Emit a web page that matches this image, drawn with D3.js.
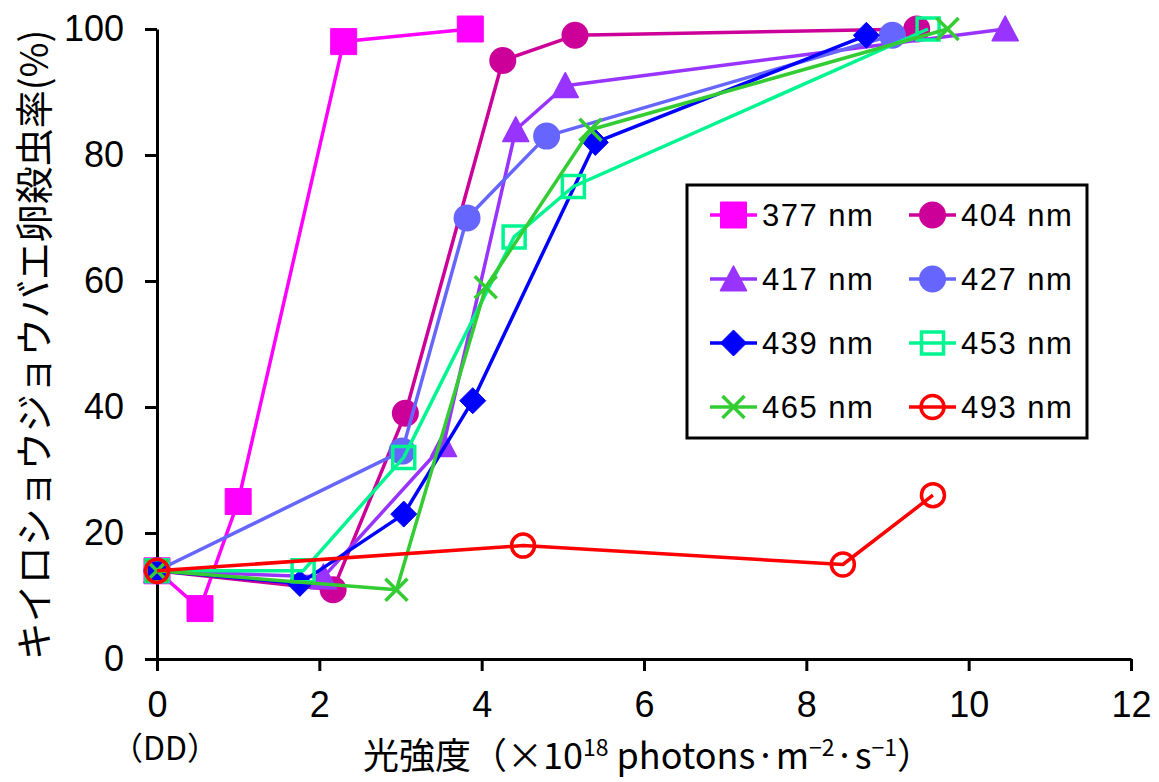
<!DOCTYPE html>
<html>
<head>
<meta charset="utf-8">
<script src="https://cdn.jsdelivr.net/npm/d3@7"></script>
<style>
	body { margin: 0; background: #fff; }
	text { fill: #000; }
</style>
</head>
<body>
<div id="graph"></div>
<script>
// DATA
var seriesNames = ["377 nm", "404 nm", "417 nm", "427 nm", "439 nm", "453 nm", "465 nm", "493 nm"];
var seriesColors = ["#ff00ff", "#cc0099", "#9933ff", "#6666ff", "#0000ff", "#00f590", "#33cc33", "#ff0000"];
var seriesMarkers = ["square", "circle", "triangle", "circle", "diamond", "openSquare", "x", "openCircle"];

var x377 = [0, 0.53, 1.0, 2.3, 3.86];
var y377 = [14, 8, 25, 98, 100];
var x404 = [0, 2.17, 3.06, 4.26, 5.15, 9.36];
var y404 = [14, 11, 39, 95, 99, 100];
var x417 = [0, 2.05, 3.53, 4.42, 5.03, 10.45];
var y417 = [14, 13, 34, 84, 91, 100];
var x427 = [0, 3.02, 3.82, 4.8, 9.06];
var y427 = [14, 33, 70, 83, 99];
var x439 = [0, 1.76, 3.04, 3.89, 5.4, 8.74];
var y439 = [14, 12, 23, 41, 82, 99];
var x453 = [0, 1.8, 3.04, 4.4, 5.13, 9.5];
var y453 = [14, 14, 32, 67, 75, 100];
var x465 = [0, 2.95, 4.05, 5.34, 9.74];
var y465 = [14, 11, 59, 84, 100];
var x493 = [0, 4.51, 8.45, 9.56];
var y493 = [14, 18, 15, 26];

var xValues = [x377, x404, x417, x427, x439, x453, x465, x493];
var yValues = [y377, y404, y417, y427, y439, y453, y465, y493];

var xTicks = [0, 2, 4, 6, 8, 10, 12];
var yTicks = [0, 20, 40, 60, 80, 100];

// SET DIMENSIONS AND MARGINS OF GRAPH
var margin = { top: 29, right: 28, bottom: 123, left: 157 },
	width = 1159 - margin.left - margin.right,
	height = 782 - margin.top - margin.bottom;

var svg = d3
	.select("#graph")
	.append("svg")
	.attr("width", 1159)
	.attr("height", 782);

var g = svg
	.append("g")
	.attr("transform", "translate(" + margin.left + "," + margin.top + ")");

var x = d3.scaleLinear().domain([0, 12]).range([0, width]);
var y = d3.scaleLinear().domain([0, 100]).range([height, 0]);

// ADD X-AXIS
var xAxis = g
	.append("g")
	.attr("transform", "translate(0," + height + ")")
	.call(d3.axisBottom(x).tickValues(xTicks).tickSize(12).tickPadding(20).tickSizeOuter(0));

// ADD Y-AXIS
var yAxis = g
	.append("g")
	.call(d3.axisLeft(y).tickValues(yTicks).tickSize(12).tickPadding(21).tickSizeOuter(0));

[xAxis, yAxis].forEach(function (ax) {
	ax.select(".domain").attr("stroke", "#000").attr("stroke-width", 3);
	ax.selectAll(".tick line").attr("stroke", "#000").attr("stroke-width", 3);
	ax.selectAll(".tick text")
		.attr("fill", "#000")
		.style("font-family", "'Liberation Sans', Arial, sans-serif")
		.style("font-size", "36px");
});

// "(DD)" UNDER THE 0 TICK
g.append("text")
	.attr("x", x(0) + 8)
	.attr("y", height + 101)
	.attr("text-anchor", "middle")
	.style("font-family", "'Noto Sans CJK JP', sans-serif")
	.style("font-size", "32px")
	.text("（DD）");

// MARKER SHAPES
function markerPath(type, s) {
	switch (type) {
		case "square":
		case "openSquare":
			return "M" + -s + "," + -s + "H" + s + "V" + s + "H" + -s + "Z";
		case "triangle":
			return "M0," + -s + "L" + s + "," + s * 0.9 + "L" + -s + "," + s * 0.9 + "Z";
		case "diamond":
			return "M0," + -s + "L" + s + ",0L0," + s + "L" + -s + ",0Z";
		case "x":
			return "M" + -s + "," + -s + "L" + s + "," + s + "M" + s + "," + -s + "L" + -s + "," + s;
		default:
			return "M" + s + ",0A" + s + "," + s + " 0 1,1 " + -s + ",0A" + s + "," + s + " 0 1,1 " + s + ",0Z";
	}
}

function drawMarker(sel, type, color) {
	var p = sel.append("path");
	if (type === "square") {
		p.attr("d", markerPath(type, 13)).attr("fill", color).attr("stroke", color).attr("stroke-width", 1).attr("stroke-linejoin", "round");
	} else if (type === "circle") {
		p.attr("d", markerPath(type, 13.5)).attr("fill", color);
	} else if (type === "triangle") {
		p.attr("d", markerPath(type, 13)).attr("fill", color).attr("stroke", color).attr("stroke-width", 1.5).attr("stroke-linejoin", "round");
	} else if (type === "diamond") {
		p.attr("d", markerPath(type, 13)).attr("fill", color).attr("stroke", color).attr("stroke-width", 1).attr("stroke-linejoin", "round");
	} else if (type === "openSquare") {
		p.attr("d", markerPath(type, 11)).attr("fill", "none").attr("stroke", color).attr("stroke-width", 3.5);
	} else if (type === "x") {
		p.attr("d", markerPath(type, 11)).attr("fill", "none").attr("stroke", color).attr("stroke-width", 3.5);
	} else {
		p.attr("d", markerPath(type, 11.5)).attr("fill", "none").attr("stroke", color).attr("stroke-width", 3.5);
	}
	return p;
}

// ADD LINES & POINTS
var line = d3
	.line()
	.x(function (d) {
		return x(d[0]);
	})
	.y(function (d) {
		return y(d[1]);
	});

seriesNames.forEach(function (name, i) {
	var data = xValues[i].map(function (v, j) {
		return [v, yValues[i][j]];
	});
	var sg = g.append("g").attr("class", "series");
	sg.append("path")
		.datum(data)
		.attr("fill", "none")
		.attr("stroke", seriesColors[i])
		.attr("stroke-width", 3.5)
		.attr("stroke-linejoin", "round")
		.attr("d", line);
	data.forEach(function (d) {
		var mg = sg.append("g").attr("transform", "translate(" + x(d[0]) + "," + y(d[1]) + ")");
		drawMarker(mg, seriesMarkers[i], seriesColors[i]);
	});
});

// LEGEND
var legend = svg.append("g").attr("transform", "translate(687,185)");
legend
	.append("rect")
	.attr("width", 400)
	.attr("height", 253)
	.attr("fill", "#fff")
	.attr("stroke", "#000")
	.attr("stroke-width", 3);

seriesNames.forEach(function (name, i) {
	var col = i % 2,
		row = Math.floor(i / 2);
	var item = legend
		.append("g")
		.attr("transform", "translate(" + (23 + col * 199) + "," + (30 + row * 64) + ")");
	item.append("line")
		.attr("x1", 0)
		.attr("x2", 47)
		.attr("stroke", seriesColors[i])
		.attr("stroke-width", 3.5);
	var mg = item.append("g").attr("transform", "translate(23.5,0)");
	drawMarker(mg, seriesMarkers[i], seriesColors[i]);
	item.append("text")
		.attr("x", 52)
		.attr("dy", "0.36em")
		.style("font-family", "'Liberation Sans', Arial, sans-serif")
		.style("font-size", "31px")
		.style("letter-spacing", "1.5px")
		.text(name);
});

// AXIS TITLES
var xt = svg
	.append("text")
	.attr("x", 648)
	.attr("y", 769)
	.attr("text-anchor", "middle")
	.style("font-family", "'Noto Sans CJK JP', sans-serif")
	.style("font-size", "36px");
xt.append("tspan").text("光強度（×10");
xt.append("tspan").attr("dy", -13).style("font-size", "23px").text("18");
xt.append("tspan").attr("dy", 13).text(" photons·m");
xt.append("tspan").attr("dy", -13).style("font-size", "23px").text("−2");
xt.append("tspan").attr("dy", 13).text("·s");
xt.append("tspan").attr("dy", -13).style("font-size", "23px").text("−1");
xt.append("tspan").attr("dy", 13).text("）");

svg.append("text")
	.attr("transform", "translate(48,345) rotate(-90)")
	.attr("text-anchor", "middle")
	.style("font-family", "'Noto Sans CJK JP', sans-serif")
	.style("font-size", "38px")
	.text("キイロショウジョウバエ卵殺虫率(%)");
</script>
</body>
</html>
